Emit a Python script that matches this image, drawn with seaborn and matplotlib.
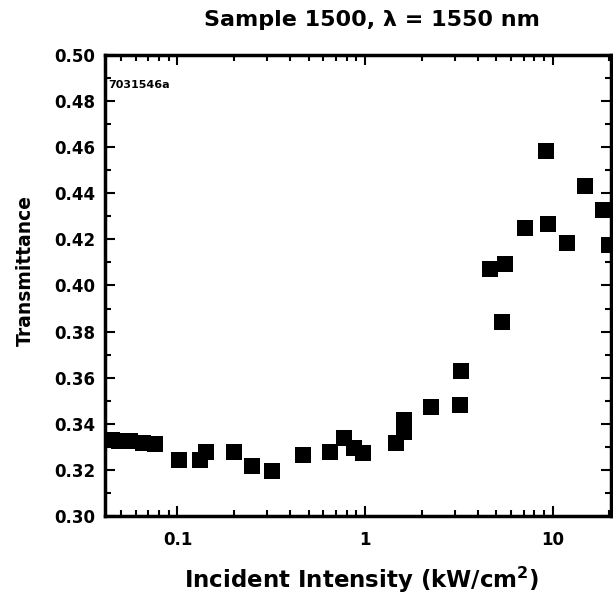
import pandas as pd
import seaborn as sns
import matplotlib.pyplot as plt
from matplotlib.ticker import MultipleLocator, LogLocator, FixedLocator, FixedFormatter, NullFormatter

# data
intensity = [0.0446, 0.049, 0.0556, 0.0652, 0.0755, 0.1025, 0.1315, 0.1425, 0.201, 0.2505,
             0.320, 0.468, 0.652, 0.773, 0.874, 0.976, 1.46, 1.61, 1.61, 2.24,
             3.2, 3.24, 4.62, 5.55, 5.36, 7.1, 9.4, 9.18, 11.9, 14.8,
             18.5, 19.9]
transmittance = [0.3330, 0.3326, 0.3326, 0.3317, 0.3312, 0.3243, 0.3243, 0.3278, 0.3278, 0.3217,
                 0.3195, 0.3265, 0.3278, 0.3339, 0.3295, 0.3273, 0.3317, 0.3417, 0.3365, 0.3473,
                 0.3482, 0.3629, 0.4072, 0.4094, 0.3842, 0.4250, 0.4267, 0.4584, 0.4185, 0.4432,
                 0.4328, 0.4176]
ytick_vals = [0.30, 0.32, 0.34, 0.36, 0.38, 0.40, 0.42, 0.44, 0.46, 0.48, 0.50]
xtick_vals = [0.1, 1, 10]
xtick_labels = ['0.1', '1', '10']

df = pd.DataFrame({'Intensity': intensity, 'Transmittance': transmittance})

sns.set_style("ticks", {"axes.edgecolor": "black", "text.color": "black",
                        "xtick.color": "black", "ytick.color": "black",
                        "axes.labelcolor": "black"})
plt.rcParams['font.family'] = ['DejaVu Sans']
plt.rcParams['font.weight'] = 'bold'
plt.rcParams['mathtext.default'] = 'bf'

fig = plt.figure(figsize=(6.13, 5.96), dpi=100)
ax = fig.add_axes([0.171, 0.134, 0.826, 0.774])

sns.scatterplot(x='Intensity', y='Transmittance', data=df, marker='s', s=120,
                color='black', edgecolor='black', linewidth=0, ax=ax, clip_on=False)

ax.set_xscale('log')
ax.set_xlim(0.041, 20.5)
ax.set_ylim(0.30, 0.50)

ax.xaxis.set_major_locator(FixedLocator(xtick_vals))
ax.xaxis.set_major_formatter(FixedFormatter(xtick_labels))
ax.xaxis.set_minor_locator(LogLocator(base=10, subs=range(2, 10)))
ax.xaxis.set_minor_formatter(NullFormatter())
ax.set_yticks(ytick_vals)
ax.set_yticklabels(['%.2f' % v for v in ytick_vals])
ax.yaxis.set_minor_locator(MultipleLocator(0.01))

ax.tick_params(which='both', direction='in', top=True, right=True, width=1.5, labelsize=12,
               color='black', labelcolor='black')
ax.tick_params(which='major', length=7)
ax.tick_params(which='minor', length=4)
ax.tick_params(axis='x', which='major', pad=11)
ax.tick_params(axis='y', which='major', pad=7)
for lab in ax.get_xticklabels() + ax.get_yticklabels():
    lab.set_fontweight('bold')
for sp in ax.spines.values():
    sp.set_linewidth(2.5)
    sp.set_color('black')
ax.set_xlabel('')
ax.set_ylabel('')

fig.text(372 / 613, 1 - 20 / 596, 'Sample 1500, \u03bb = 1550 nm', fontsize=16,
         fontweight='bold', ha='center', va='center', color='black')
fig.text(362 / 613, 1 - 580 / 596, 'Incident Intensity (kW/cm$^2$)', fontsize=16.5,
         fontweight='bold', ha='center', va='center', color='black')
fig.text(25 / 613, 1 - 270 / 596, 'Transmittance', fontsize=13.5, fontweight='bold',
         ha='center', va='center', rotation=90, color='black')
ax.text(0.006, 0.945, '7031546a', transform=ax.transAxes, fontsize=8, fontweight='bold',
        va='top', color='black')

plt.savefig('out.png', dpi=100)
